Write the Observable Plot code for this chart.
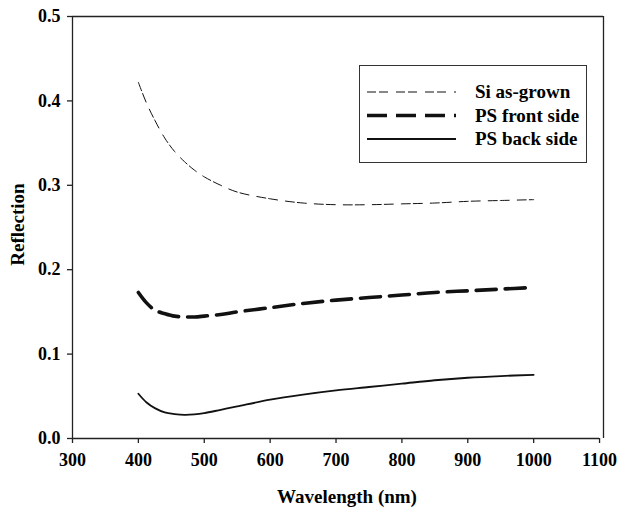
<!DOCTYPE html>
<html>
<head>
<meta charset="utf-8">
<script src="https://cdn.jsdelivr.net/npm/d3@7"></script>
<script src="https://cdn.jsdelivr.net/npm/@observablehq/plot@0.6"></script>
<style>
  html, body { margin: 0; padding: 0; background: #fff; }
  #wrap { position: relative; width: 625px; height: 511px; }
  #wrap svg text { font-family: "Liberation Serif", "Times New Roman", serif; font-weight: bold; fill: #000; }
  #legend { position: absolute; left: 359px; top: 65px; width: 226px; height: 96px; border: 1.4px solid #333; background: #fff; }
  #legend text { font-family: "Liberation Serif", "Times New Roman", serif; font-weight: bold; font-size: 19px; fill: #000; }
</style>
</head>
<body>
<div id="wrap"></div>
<script>
const wavelength = [400, 412, 425, 440, 455, 470, 485, 500, 525, 550, 600, 650, 700, 750, 800, 850, 900, 950, 1000];
const siAsGrown  = [0.422, 0.398, 0.377, 0.356, 0.340, 0.328, 0.318, 0.310, 0.300, 0.292, 0.284, 0.279, 0.277, 0.277, 0.278, 0.279, 0.281, 0.282, 0.283];
const psFront    = [0.173, 0.161, 0.152, 0.148, 0.145, 0.144, 0.144, 0.145, 0.147, 0.150, 0.155, 0.160, 0.164, 0.167, 0.170, 0.173, 0.175, 0.177, 0.179];
const psBack     = [0.053, 0.043, 0.036, 0.031, 0.029, 0.028, 0.0285, 0.030, 0.034, 0.038, 0.046, 0.052, 0.057, 0.061, 0.065, 0.069, 0.072, 0.074, 0.0755];
const seriesNames = ["Si as-grown", "PS front side", "PS back side"];
const xTicks = [300, 400, 500, 600, 700, 800, 900, 1000, 1100];
const yTicks = [0.0, 0.1, 0.2, 0.3, 0.4, 0.5];

const styles = {
  "Si as-grown":   {strokeWidth: 1, dash: "9,3,9,8"},
  "PS front side": {strokeWidth: 3.6, dash: "20,9"},
  "PS back side":  {strokeWidth: 1.8, dash: null}
};
const seriesValues = [siAsGrown, psFront, psBack];
const rows = seriesNames.map((name, i) => wavelength.map((w, j) => ({name, w, r: seriesValues[i][j]})));

const lineMarks = rows.map((data, i) => {
  const s = styles[seriesNames[i]];
  return Plot.line(data, {x: "w", y: "r", curve: "catmull-rom", stroke: "#111",
    strokeWidth: s.strokeWidth, strokeDasharray: s.dash || undefined});
});

const chart = Plot.plot({
  width: 625, height: 511,
  marginLeft: 72, marginRight: 22, marginTop: 16, marginBottom: 73,
  style: {fontSize: "18px", fontWeight: "bold", fontFamily: "'Liberation Serif', serif", background: "#fff"},
  x: {domain: [300, 1106]},
  y: {domain: [0, 0.5]},
  marks: [
    Plot.axisX({ticks: xTicks, tickFormat: d3.format("d"), tickSize: 5, tickPadding: 10, stroke: "#222", strokeWidth: 1.3, label: null, fontSize: 18}),
    Plot.axisY({ticks: yTicks, tickFormat: d3.format(".1f"), tickSize: 5, tickPadding: 7, stroke: "#222", strokeWidth: 1.3, label: null, fontSize: 18}),
    Plot.ruleY([0], {x1: 300, x2: 1100, stroke: "#222", strokeWidth: 1.3}),
    Plot.ruleY([0.5], {x1: 300, x2: 1106, stroke: "#222", strokeWidth: 1.3}),
    Plot.ruleX([300], {y1: 0, y2: 0.5, stroke: "#222", strokeWidth: 1.3}),
    Plot.ruleX([1106], {y1: 0, y2: 0.5, stroke: "#222", strokeWidth: 1.3}),
    ...lineMarks,
    Plot.text(["Wavelength (nm)"], {frameAnchor: "bottom", dx: 9, dy: 64, fontSize: 19, fontWeight: "bold"}),
    Plot.text(["Reflection"], {frameAnchor: "left", textAnchor: "middle", dx: -55, dy: -3, rotate: -90, fontSize: 19, fontWeight: "bold"})
  ]
});
document.getElementById("wrap").appendChild(chart);

// legend
const legend = document.createElement("div");
legend.id = "legend";
const ns = "http://www.w3.org/2000/svg";
const lsvg = document.createElementNS(ns, "svg");
lsvg.setAttribute("width", 226); lsvg.setAttribute("height", 96);
seriesNames.forEach((name, i) => {
  const y = 26 + i * 23.5;
  const s = styles[name];
  const ln = document.createElementNS(ns, "line");
  ln.setAttribute("x1", 7); ln.setAttribute("x2", 96);
  ln.setAttribute("y1", y); ln.setAttribute("y2", y);
  ln.setAttribute("stroke", "#111");
  ln.setAttribute("stroke-width", s.strokeWidth);
  if (s.dash) ln.setAttribute("stroke-dasharray", s.dash);
  lsvg.appendChild(ln);
  const t = document.createElementNS(ns, "text");
  t.setAttribute("x", 115); t.setAttribute("y", y + 6);
  t.textContent = name;
  lsvg.appendChild(t);
});
legend.appendChild(lsvg);
document.getElementById("wrap").appendChild(legend);
</script>
</body>
</html>
